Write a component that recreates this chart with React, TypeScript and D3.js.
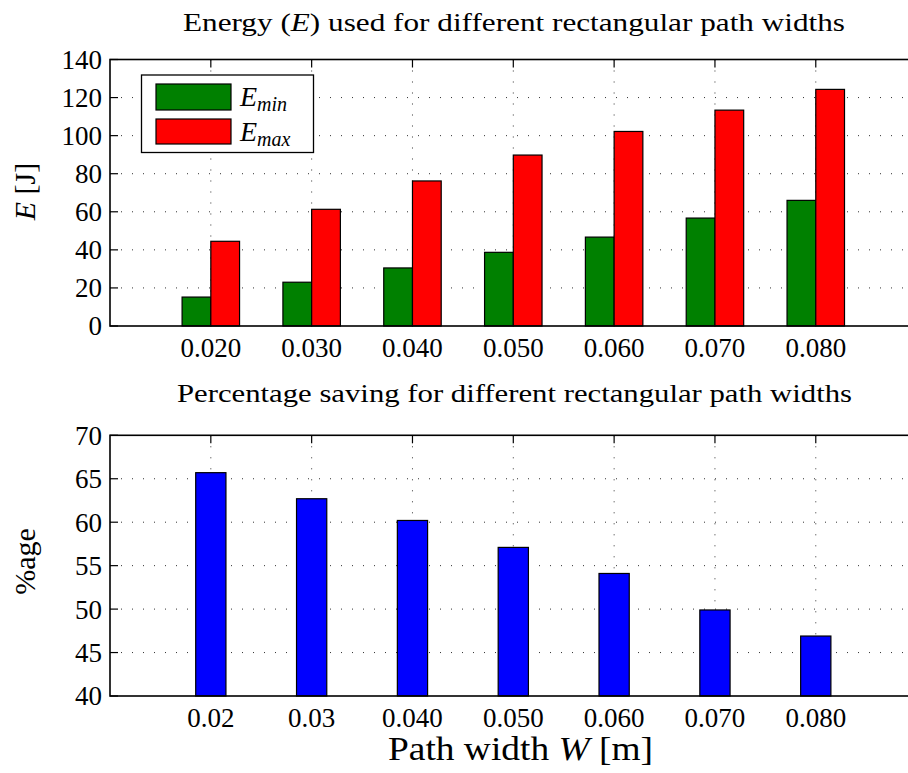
import React from "react";
import * as d3 from "d3";

const categories = ["0.020", "0.030", "0.040", "0.050", "0.060", "0.070", "0.080"];
const bottomTickLabels = ["0.02", "0.03", "0.040", "0.050", "0.060", "0.070", "0.080"];
const eMin = [15.2, 23.0, 30.5, 38.7, 46.7, 56.7, 66.0];
const eMax = [44.5, 61.3, 76.2, 89.8, 102.2, 113.4, 124.3];
const saving = [65.7, 62.7, 60.2, 57.1, 54.1, 49.9, 46.9];
const topYTicks = [0, 20, 40, 60, 80, 100, 120, 140];
const bottomYTicks = [40, 45, 50, 55, 60, 65, 70];

const W = 908;
const H = 773;
const FONT = "'Liberation Serif', 'Times New Roman', serif";

const x = d3.scaleLinear().domain([0, 8]).range([110, 916.6]);
const yTop = d3.scaleLinear().domain([0, 140]).range([326, 59.5]);
const yBot = d3.scaleLinear().domain([40, 70]).range([696, 435.3]);

const GRID = { stroke: "#333", strokeWidth: 1, strokeDasharray: "1 10" };

function Panel({ y, ticks }: { y: d3.ScaleLinear<number, number>; ticks: number[] }) {
  const [y0, y1] = y.range();
  const left = x.range()[0];
  const right = x.range()[1];
  const idx = d3.range(1, 8);
  return (
    <g>
      {ticks.slice(1, -1).map((t) => (
        <line key={"gy" + t} x1={left} x2={right} y1={y(t)} y2={y(t)} {...GRID} />
      ))}
      {idx.map((i) => (
        <line key={"gx" + i} x1={x(i)} x2={x(i)} y1={y1} y2={y0} {...GRID} />
      ))}
      {idx.map((i) => (
        <g key={"tx" + i}>
          <line x1={x(i)} x2={x(i)} y1={y1} y2={y1 + 8} stroke="#000" strokeWidth={1.2} />
          <line x1={x(i)} x2={x(i)} y1={y0} y2={y0 - 8} stroke="#000" strokeWidth={1.2} />
        </g>
      ))}
      {ticks.map((t) => (
        <g key={"ty" + t}>
          <line x1={left} x2={left + 8} y1={y(t)} y2={y(t)} stroke="#000" strokeWidth={1.2} />
          <text x={left - 8} y={y(t)} dy="0.35em" textAnchor="end" fontSize={27} fontFamily={FONT}>
            {t}
          </text>
        </g>
      ))}
    </g>
  );
}

function Frame({ y }: { y: d3.ScaleLinear<number, number> }) {
  const [y0, y1] = y.range();
  const [left, right] = x.range();
  return <rect x={left} y={y1} width={right - left} height={y0 - y1} fill="none" stroke="#000" strokeWidth={1.6} />;
}

export default function App() {
  const bwTop = 0.285;
  const bwBot = 0.3;
  return (
    <svg width={W} height={H} style={{ position: "absolute", left: 0, top: 0, background: "#fff" }} fontFamily={FONT}>
      <rect x={0} y={0} width={W} height={H} fill="#fff" />
      {/* Top panel */}
      <text x={514} y={31} textAnchor="middle" fontSize={26} textLength={662} lengthAdjust="spacingAndGlyphs">
        Energy (<tspan fontStyle="italic">E</tspan>) used for different rectangular path widths
      </text>
      <Panel y={yTop} ticks={topYTicks} />
      {categories.map((c, i) => (
        <g key={"bt" + c}>
          <rect
            x={x(i + 1 - bwTop)}
            y={yTop(eMin[i])}
            width={x(i + 1) - x(i + 1 - bwTop)}
            height={yTop(0) - yTop(eMin[i])}
            fill="#008000"
            stroke="#000"
            strokeWidth={1.2}
          />
          <rect
            x={x(i + 1)}
            y={yTop(eMax[i])}
            width={x(i + 1 + bwTop) - x(i + 1)}
            height={yTop(0) - yTop(eMax[i])}
            fill="#ff0000"
            stroke="#000"
            strokeWidth={1.2}
          />
          <text x={x(i + 1)} y={357} textAnchor="middle" fontSize={27}>
            {c}
          </text>
        </g>
      ))}
      <Frame y={yTop} />
      {/* Legend */}
      <rect x={141.5} y={75} width={172} height={77.5} fill="#fff" stroke="#000" strokeWidth={1.3} />
      <rect x={156} y={84} width={75} height={26} fill="#008000" stroke="#000" strokeWidth={1.2} />
      <rect x={156} y={119} width={75} height={25} fill="#ff0000" stroke="#000" strokeWidth={1.2} />
      <text x={240} y={106} fontSize={28} fontStyle="italic">
        E<tspan fontSize={20} dy={5}>min</tspan>
      </text>
      <text x={240} y={141} fontSize={28} fontStyle="italic">
        E<tspan fontSize={20} dy={5}>max</tspan>
      </text>
      <text transform="translate(35,191.5) rotate(-90)" textAnchor="middle" fontSize={30}>
        <tspan fontStyle="italic">E</tspan> [J]
      </text>

      {/* Bottom panel */}
      <text x={514.5} y={402} textAnchor="middle" fontSize={26} textLength={675} lengthAdjust="spacingAndGlyphs">
        Percentage saving for different rectangular path widths
      </text>
      <Panel y={yBot} ticks={bottomYTicks} />
      {saving.map((v, i) => (
        <g key={"bb" + i}>
          <rect
            x={x(i + 1 - bwBot / 2)}
            y={yBot(v)}
            width={x(i + 1 + bwBot / 2) - x(i + 1 - bwBot / 2)}
            height={yBot(40) - yBot(v)}
            fill="#0000ff"
            stroke="#000"
            strokeWidth={1.2}
          />
          <text x={x(i + 1)} y={727} textAnchor="middle" fontSize={27}>
            {bottomTickLabels[i]}
          </text>
        </g>
      ))}
      <Frame y={yBot} />
      <text transform="translate(35,561.5) rotate(-90)" textAnchor="middle" fontSize={30}>
        %age
      </text>
      <text x={520.5} y={760} textAnchor="middle" fontSize={33} textLength={265} lengthAdjust="spacingAndGlyphs">
        Path width <tspan fontStyle="italic">W</tspan> [m]
      </text>
    </svg>
  );
}
